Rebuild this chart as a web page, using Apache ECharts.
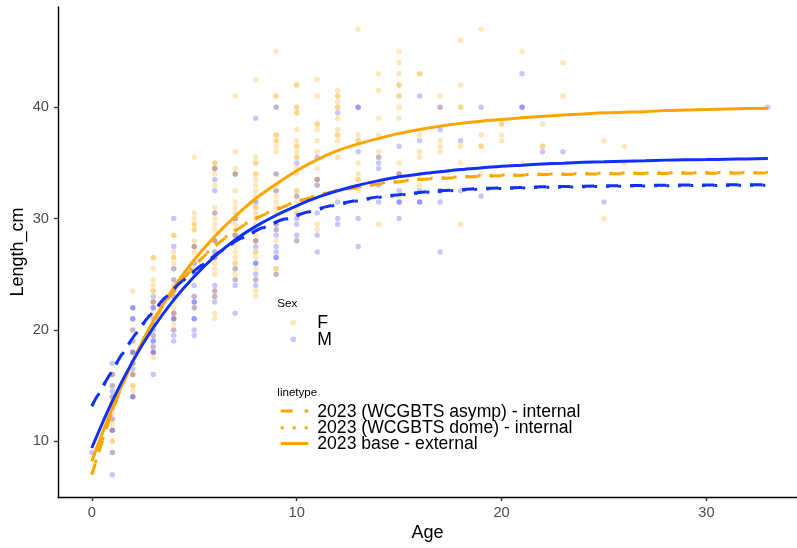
<!DOCTYPE html>
<html>
<head>
<meta charset="utf-8">
<script src="https://cdn.jsdelivr.net/npm/echarts@6/dist/echarts.min.js"></script>
<style>html,body{margin:0;padding:0;background:#fff}#chart{width:797px;height:548px}</style>
</head>
<body>
<div id="chart"></div>
<script>
// ---- data ----
const lineAges = [0,1,2,3,4,5,6,7,8,9,10,11,12,13,14,15,16,17,18,19,20,21,22,23,24,25,26,27,28,29,30,31,32,33];
const femaleBase  = [8.2,13.0,17.2,20.8,23.8,26.3,28.4,30.2,31.8,33.1,34.3,35.3,36.1,36.7,37.2,37.65,38.0,38.3,38.55,38.75,38.9,39.05,39.2,39.3,39.4,39.5,39.55,39.6,39.7,39.75,39.8,39.85,39.88,39.9];
const maleBase    = [9.4,13.6,17.2,20.2,22.7,24.8,26.6,28.1,29.3,30.3,31.15,31.9,32.5,33.0,33.4,33.75,34.0,34.2,34.4,34.55,34.7,34.8,34.9,34.97,35.05,35.1,35.15,35.2,35.25,35.28,35.3,35.33,35.36,35.4];
const femaleAsymp = [7.0,12.7,17.15,20.7,23.5,25.7,27.5,28.9,30.0,30.8,31.5,32.05,32.5,32.8,33.1,33.3,33.5,33.6,33.7,33.8,33.85,33.9,33.95,33.97,34.0,34.02,34.04,34.05,34.06,34.07,34.08,34.08,34.09,34.1];
const femaleDome  = [7.05,12.75,17.2,20.75,23.55,25.75,27.55,28.95,30.05,30.85,31.55,32.1,32.55,32.85,33.15,33.35,33.55,33.65,33.75,33.85,33.9,33.95,34.0,34.02,34.05,34.07,34.09,34.1,34.11,34.12,34.13,34.13,34.14,34.15];
const maleAsymp   = [13.2,16.4,19.3,21.7,23.7,25.3,26.7,27.95,28.9,29.7,30.3,30.85,31.3,31.65,31.95,32.15,32.35,32.5,32.6,32.7,32.75,32.8,32.85,32.88,32.91,32.94,32.96,32.98,33.0,33.01,33.02,33.03,33.04,33.05];
const maleDome    = [13.15,16.35,19.25,21.65,23.65,25.25,26.65,27.9,28.85,29.65,30.25,30.8,31.25,31.6,31.9,32.1,32.3,32.45,32.55,32.65,32.7,32.75,32.8,32.83,32.86,32.89,32.91,32.93,32.95,32.96,32.97,32.98,32.99,33.0];

const femaleByAge = [
  [1,[16,16,15,14,13.5,13,12.5,12,11.5,11,10,10,9]],
  [2,[23.5,20,19,18,17,17,16,16,15,15,14.5,14]],
  [3,[26.5,26.5,25.5,24.5,24,23.5,23.5,22.5,22.5,21.5,19.5,18.5,18,17.5]],
  [4,[28.5,28.5,27,26.5,26.5,26,25.5,24.5,24,23.5,23,22.5,22,21.5,21.5,21,20.5,20]],
  [5,[35.5,30.5,30,29.5,29.5,29,29,28,27.5,27.5,27,26,25.5,23,22]],
  [6,[35,35,34.5,34.5,34,33,31,30.5,30,29.5,29,28,28,27,26.5,26.5,26,25.5,25,23.5,23,21.5,21]],
  [7,[41,36,34.5,34,34,32.5,31.5,31,30.5,30,30,29.5,29,28.5,28.5,28,27.5,27,26.5,26,26,25.5,25,24.5]],
  [8,[42.5,35.5,35,35,34,34,33.5,33,32.5,32,31.5,31,31,30.5,30,29.5,28.5,28,28,27,27,26.5,25.5,24.5,23.5,23]],
  [9,[45,41,41,40,37.5,37.5,37,37,36.5,36,34,33,32.5,32,31.5,31,30.5,29.5,29,28,25.5,25.5,25]],
  [10,[42,42,40,40,39.5,39.5,38,37,36.5,36.5,36,35.5,35.5,34.5,34,32.5,32.5,32,31.5,31,30.5,30.5,28]],
  [11,[42.5,41,38.5,38.5,38,37,36,34.5,33.5,33.5,33,29.5,29]],
  [12,[41.5,41,41,40.5,40,40,39,38,37.5,37.5,37,35.5]],
  [13,[47,37.5,37,37,35,34,33.5,33.5,32.5]],
  [14,[43,41.5,39,37.5,36,35.5,29.5]],
  [15,[45,44,43,42,42,41,41,40,39,35,34,34,32]],
  [16,[43,43,37.5,36,35.5,34,33]],
  [17,[41,40,37,36.5,36]],
  [18,[46,42,40,40,36.5,35,29.5]],
  [19,[47,37.5,36.5,36.5,34]],
  [20,[38.5,38.5,37.5,37]],
  [21,[45,35]],
  [22,[38.5,36.5,36.5]],
  [23,[44,41]],
  [25,[37,30]],
  [26,[36.5,35]]
];
const maleByAge = [
  [0,[9]],
  [1,[17,16,15,14.5,14,13,12,11,11,9,7]],
  [2,[22,22,21,21,20,19,18,18,17,16.5,16,14,14]],
  [3,[23,22.5,22,22,21,20.5,20.5,20,19.5,19,19,18.5,18,18,16]],
  [4,[30,27.5,25.5,24.5,23.5,23,21.5,21,21,20,19.5,19]],
  [5,[27.5,26,25,24,23,22.5,22.5,22,21,21,20,19.5]],
  [6,[34.5,33.5,32.5,30.5,28,27,26.5,24,23.5,23,22.5]],
  [7,[34,30,28.5,25.5,24.5,24,21.5]],
  [8,[39,31.5,29,28,27.5,26,26,25,24.5,24]],
  [9,[40,34,32.5,29.5,29,28.5,27.5,27,26.5,26.5,25]],
  [10,[35,32,30,29.5,28.5,28]],
  [11,[35.5,33.5,33,30.5,28.5,27]],
  [12,[39.5,31.5,30,29.5]],
  [13,[40,40,36,30,27.5]],
  [14,[35.5,35,34.5,33,31.5]],
  [15,[36.5,34,32.5,31.5,31.5,30]],
  [16,[41,37,32.5,31.5,31.5]],
  [17,[40,38,32.5,32.5,31.5,27]],
  [18,[37,32.5]],
  [19,[40,32]],
  [21,[43,40,40]],
  [22,[36]],
  [23,[36]],
  [25,[31.5]],
  [33,[40]]
];
const xTicks = [0,10,20,30];
const yTicks = [10,20,30,40];
const sexLabels = ['F','M'];
const linetypeLabels = ['2023 (WCGBTS asymp) - internal','2023 (WCGBTS dome) - internal','2023 base - external'];

// ---- styling ----
const FONT = 'Liberation Sans, Arial, sans-serif';
const ORANGE = '#FFA500';
const BLUE = '#1030FF';
const PT_BLUE = '#0000FF';
const LW = 3;
const DASH = [12,12];
const DOT = [3,9];

const toPts = byAge => byAge.flatMap(([a, ls]) => ls.map(l => [a, l]));
const toLine = arr => lineAges.map((a, i) => [a, arr[i]]);

function lineSeries(name, arr, color, type, z) {
  return {
    type: 'line', name, data: toLine(arr), showSymbol: false, symbol: 'none',
    smooth: 0.35, silent: true, z,
    lineStyle: { color, width: LW, type, cap: 'butt' }
  };
}

const chart = echarts.init(document.getElementById('chart'), null, { renderer: 'canvas' });

const axisLineStyle = { color: '#000', width: 1.4 };
const option = {
  animation: false,
  backgroundColor: '#fff',
  grid: { left: 58, right: 0, top: 7, bottom: 51, outerBoundsMode: 'none', containLabel: false },
  xAxis: {
    type: 'value', min: -1.65, max: 34.42,
    splitLine: { show: false },
    axisLine: { show: true, onZero: false, lineStyle: axisLineStyle },
    axisTick: { show: true, length: 4, customValues: xTicks, lineStyle: { color: '#333', width: 1.4 } },
    axisLabel: { customValues: xTicks, color: '#4D4D4D', fontSize: 14.7, fontFamily: FONT, margin: 8 },
    name: 'Age', nameLocation: 'middle', nameGap: 27, nameMoveOverlap: false,
    nameTextStyle: { fontSize: 18, color: '#000', fontFamily: FONT }
  },
  yAxis: {
    type: 'value', min: 5, max: 49,
    splitLine: { show: false },
    axisLine: { show: true, onZero: false, lineStyle: axisLineStyle },
    axisTick: { show: true, length: 4, customValues: yTicks, lineStyle: { color: '#333', width: 1.4 } },
    axisLabel: { customValues: yTicks, color: '#4D4D4D', fontSize: 14.7, fontFamily: FONT, margin: 9 },
    name: 'Length_cm', nameLocation: 'middle', nameGap: 31, nameMoveOverlap: false,
    nameTextStyle: { fontSize: 18, color: '#000', fontFamily: FONT }
  },
  series: [
    { type: 'scatter', name: 'F', data: toPts(femaleByAge), symbolSize: 5.5, silent: true, z: 1,
      itemStyle: { color: ORANGE, opacity: 0.27 } },
    { type: 'scatter', name: 'M', data: toPts(maleByAge), symbolSize: 5.5, silent: true, z: 1,
      itemStyle: { color: PT_BLUE, opacity: 0.22 } },
    lineSeries(linetypeLabels[1], femaleDome, ORANGE, DOT, 2),
    lineSeries(linetypeLabels[0], femaleAsymp, ORANGE, DASH, 2),
    lineSeries(linetypeLabels[2], femaleBase, ORANGE, 'solid', 2),
    lineSeries(linetypeLabels[1], maleDome, BLUE, DOT, 3),
    lineSeries(linetypeLabels[0], maleAsymp, BLUE, DASH, 3),
    lineSeries(linetypeLabels[2], maleBase, BLUE, 'solid', 3)
  ],
  graphic: [
    { type: 'text', x: 277.3, y: 304, style: { text: 'Sex', fontSize: 11.6, fontFamily: FONT, fill: '#000', verticalAlign: 'middle', align: 'left' } },
    { type: 'circle', shape: { cx: 293.3, cy: 322.7, r: 2.9 }, style: { fill: ORANGE, opacity: 0.27 } },
    { type: 'circle', shape: { cx: 293.3, cy: 339.3, r: 2.9 }, style: { fill: PT_BLUE, opacity: 0.22 } },
    { type: 'text', x: 317.3, y: 323.5, style: { text: sexLabels[0], fontSize: 17.6, fontFamily: FONT, fill: '#000', verticalAlign: 'middle', align: 'left' } },
    { type: 'text', x: 317.3, y: 340.2, style: { text: sexLabels[1], fontSize: 17.6, fontFamily: FONT, fill: '#000', verticalAlign: 'middle', align: 'left' } },
    { type: 'text', x: 277.3, y: 392.5, style: { text: 'linetype', fontSize: 11.6, fontFamily: FONT, fill: '#000', verticalAlign: 'middle', align: 'left' } },
    { type: 'line', shape: { x1: 280.7, y1: 411, x2: 308.3, y2: 411 }, style: { stroke: ORANGE, lineWidth: LW, lineDash: DASH, lineCap: 'butt' } },
    { type: 'line', shape: { x1: 280.7, y1: 427.7, x2: 308.3, y2: 427.7 }, style: { stroke: ORANGE, lineWidth: LW, lineDash: DOT, lineCap: 'butt' } },
    { type: 'line', shape: { x1: 280.7, y1: 443.5, x2: 308.3, y2: 443.5 }, style: { stroke: ORANGE, lineWidth: LW, lineCap: 'butt' } },
    { type: 'text', x: 317.3, y: 411.8, style: { text: linetypeLabels[0], fontSize: 17.6, fontFamily: FONT, fill: '#000', verticalAlign: 'middle', align: 'left' } },
    { type: 'text', x: 317.3, y: 428.2, style: { text: linetypeLabels[1], fontSize: 17.6, fontFamily: FONT, fill: '#000', verticalAlign: 'middle', align: 'left' } },
    { type: 'text', x: 317.3, y: 444.4, style: { text: linetypeLabels[2], fontSize: 17.6, fontFamily: FONT, fill: '#000', verticalAlign: 'middle', align: 'left' } }
  ]
};
chart.setOption(option);
</script>
</body>
</html>
